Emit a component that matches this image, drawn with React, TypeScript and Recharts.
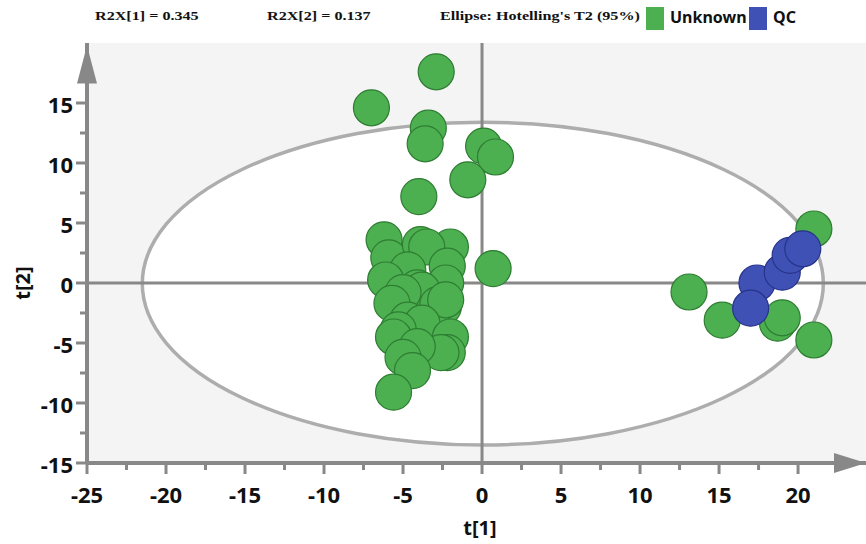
import React from 'react';
import {
  ScatterChart, Scatter, XAxis, YAxis, CartesianGrid,
  ReferenceLine, ReferenceArea, ReferenceDot,
} from 'recharts';

// score plot values
const unknownT1 = [
  -2.9, -7.0, -3.4, -3.6, 0.1, 0.85, -0.9, -4.0, -6.2, -5.9, -2.0, -3.9,
  -3.5, -2.2, -4.7, 0.7, -6.1, -2.3, -4.1, -3.8, -5.0, -5.7, -2.45, -2.8,
  -2.3, -4.7, -3.8, -5.3, -5.6, -2.0, -2.2, -2.6, -4.1, -5.0, -4.4, -5.6,
  21.0, 13.1, 15.2, 18.7, 19.0, 21.0,
];
const unknownT2 = [
  17.6, 14.6, 12.9, 11.6, 11.4, 10.5, 8.6, 7.2, 3.6, 2.1, 3.0, 3.2,
  3.0, 1.4, 1.1, 1.2, 0.25, 0.0, -0.4, -0.6, -0.8, -1.7, -2.0, -1.8,
  -1.4, -3.1, -3.35, -3.9, -4.5, -4.5, -5.8, -5.8, -5.3, -6.2, -7.3, -9.1,
  4.5, -0.75, -3.1, -3.35, -2.9, -4.75,
];
const qcT1 = [17.4, 19.0, 19.5, 20.3, 17.0];
const qcT2 = [0.0, 0.9, 2.3, 2.85, -2.1];

const xTicks = [-25, -22.5, -20, -17.5, -15, -12.5, -10, -7.5, -5, -2.5, 0, 2.5, 5, 7.5, 10, 12.5, 15, 17.5, 20];
const yTicks = [-15, -12.5, -10, -7.5, -5, -2.5, 0, 2.5, 5, 7.5, 10, 12.5, 15];

const unknownData = unknownT1.map((t1, i) => ({ t1, t2: unknownT2[i] }));
const qcData = qcT1.map((t1, i) => ({ t1, t2: qcT2[i] }));

const AXIS = '#888888';
const TICK_FONT = { fontFamily: '"Noto Sans", sans-serif', fontWeight: 700, fontSize: 22, fill: '#111' };

const isMajor = (v: number) => v % 5 === 0;

const XTick = ({ x, y, payload }: any) => {
  const v = payload.value;
  if (!isMajor(v)) return <line x1={x} x2={x} y1={y} y2={y + 7} stroke={AXIS} strokeWidth={3} />;
  return (
    <g>
      <line x1={x} x2={x} y1={y} y2={y + 11} stroke={AXIS} strokeWidth={3} />
      <text x={x} y={y + 31} textAnchor="middle" dominantBaseline="central" style={TICK_FONT}>{v}</text>
    </g>
  );
};

const YTick = ({ x, y, payload }: any) => {
  const v = payload.value;
  if (!isMajor(v)) return <line x1={x - 7} x2={x} y1={y} y2={y} stroke={AXIS} strokeWidth={3} />;
  return (
    <g>
      <line x1={x - 11} x2={x} y1={y} y2={y} stroke={AXIS} strokeWidth={3} />
      <text x={x - 14} y={y + 1} textAnchor="end" dominantBaseline="central" style={TICK_FONT}>{v}</text>
    </g>
  );
};

const dot = (fill: string, stroke: string) => (p: any) => (
  <circle cx={p.cx} cy={p.cy} r={18} fill={fill} stroke={stroke} strokeWidth={1.2} />
);

// the serif header in the source is stretched sideways
const headerSerif: React.CSSProperties = {
  position: 'absolute', top: 8, fontFamily: '"Liberation Serif", serif', fontWeight: 700, fontSize: 13,
  color: '#111', transform: 'scaleX(1.24)', transformOrigin: 'left center', whiteSpace: 'nowrap',
};
const headerSans: React.CSSProperties = {
  position: 'absolute', top: 6, fontFamily: '"Noto Sans", sans-serif', fontWeight: 700, fontSize: 16, color: '#111',
};

export default function App() {
  return (
    <div style={{ position: 'relative', width: 866, height: 544, background: '#fff' }}>
      <style>{'body{margin:0}'}</style>
      <ScatterChart width={866} height={544} margin={{ top: 43, right: 0, left: 0, bottom: 0 }}>
        <CartesianGrid fill="#f4f4f4" horizontal={false} vertical={false} />
        <XAxis
          type="number" dataKey="t1" domain={[-25, 24.3]} ticks={xTicks} interval={0}
          height={81} tickSize={0} tickMargin={0} tickLine={false}
          axisLine={{ stroke: AXIS, strokeWidth: 4 }} tick={<XTick />}
        />
        <YAxis
          type="number" dataKey="t2" domain={[-15, 20]} ticks={yTicks} interval={0}
          width={87} tickSize={0} tickMargin={0} tickLine={false}
          axisLine={{ stroke: AXIS, strokeWidth: 4 }} tick={<YTick />}
        />
        <ReferenceArea
          x1={-21.5} x2={21.6} y1={-13.5} y2={13.4} ifOverflow="visible"
          shape={(p: any) => (
            <ellipse
              cx={p.x + p.width / 2} cy={p.y + p.height / 2} rx={p.width / 2} ry={p.height / 2}
              fill="#ffffff" stroke="#adadad" strokeWidth={3.5}
            />
          )}
        />
        <ReferenceLine x={0} stroke={AXIS} strokeWidth={3} />
        <ReferenceLine y={0} stroke={AXIS} strokeWidth={3} />
        <ReferenceDot
          x={-25} y={19.8} ifOverflow="visible"
          shape={(p: any) => <polygon points={`${p.cx},${p.cy} ${p.cx - 10},${p.cy + 38} ${p.cx + 10},${p.cy + 38}`} fill={AXIS} />}
        />
        <ReferenceDot
          x={24.3} y={-15} ifOverflow="visible"
          shape={(p: any) => <polygon points={`${p.cx},${p.cy} ${p.cx - 32},${p.cy - 10} ${p.cx - 32},${p.cy + 10}`} fill={AXIS} />}
        />
        <Scatter name="Unknown" data={unknownData} shape={dot('#4caf50', '#2e7d32')} isAnimationActive={false} />
        <Scatter name="QC" data={qcData} shape={dot('#3f51b5', '#27338a')} isAnimationActive={false} />
      </ScatterChart>

      <div style={{ ...headerSerif, left: 95 }}>R2X[1] = 0.345</div>
      <div style={{ ...headerSerif, left: 267 }}>R2X[2] = 0.137</div>
      <div style={{ ...headerSerif, left: 440 }}>Ellipse: Hotelling's T2 (95%)</div>
      <div style={{ position: 'absolute', left: 646, top: 7, width: 18, height: 23, background: '#4caf50' }} />
      <div style={{ ...headerSans, left: 670 }}>Unknown</div>
      <div style={{ position: 'absolute', left: 749, top: 7, width: 18, height: 23, background: '#3f51b5' }} />
      <div style={{ ...headerSans, left: 773 }}>QC</div>

      <div style={{
        position: 'absolute', left: 480, top: 527, transform: 'translate(-50%, -50%)',
        fontFamily: '"Noto Sans", sans-serif', fontWeight: 700, fontSize: 20, color: '#111',
      }}>t[1]</div>
      <div style={{
        position: 'absolute', left: 22, top: 283, transform: 'translate(-50%, -50%) rotate(-90deg)',
        fontFamily: '"Noto Sans", sans-serif', fontWeight: 700, fontSize: 20, color: '#111',
      }}>t[2]</div>
    </div>
  );
}
